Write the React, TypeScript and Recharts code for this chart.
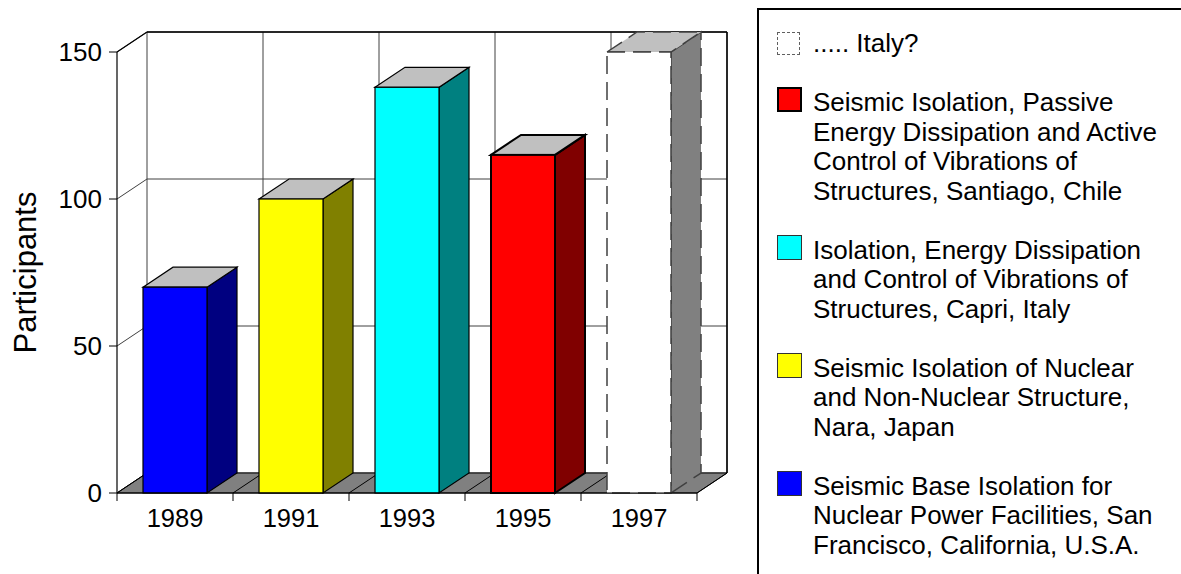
import React from "react";
import { BarChart, Bar, XAxis, YAxis, CartesianGrid, ReferenceArea } from "recharts";

const years = ["1989", "1991", "1993", "1995", "1997"];
const participants = [70, 100, 138, 115, 150];
const yTicks = [0, 50, 100, 150];

// legend text, one array of lines per meeting (same order as years)
const meetingLines = [
  ["Seismic Base Isolation for", "Nuclear Power Facilities, San", "Francisco, California, U.S.A."],
  ["Seismic Isolation of Nuclear", "and Non-Nuclear Structure,", "Nara, Japan"],
  ["Isolation, Energy Dissipation", "and Control of Vibrations of", "Structures, Capri, Italy"],
  ["Seismic Isolation, Passive", "Energy Dissipation and Active", "Control of Vibrations of", "Structures, Santiago, Chile"],
  ["..... Italy?"],
];

const faceColors = ["#0000ff", "#ffff00", "#00ffff", "#ff0000", "#ffffff"];
const sideColors = ["#000080", "#808000", "#008080", "#800000", "#808080"];

const FONT = '"Liberation Sans", Arial, Helvetica, sans-serif';
const DX = 30;
const DY = 20;

const data = years.map((year, i) => ({ year, value: participants[i] }));

const barStyle = (i: number) => {
  const last = i === years.length - 1;
  return {
    stroke: last ? "#404040" : "#000",
    strokeWidth: i === 3 ? 2 : last ? 1.5 : 1.2,
    strokeDasharray: last ? "18 8" : undefined,
  };
};

const Bar3D = (props: any) => {
  const { x, y, width, height } = props;
  const i = props.index ?? years.indexOf(props.payload?.year);
  const s = barStyle(i);
  const r = x + width;
  const b = y + height;
  return (
    <g>
      <polygon
        points={`${r},${y} ${r + DX},${y - DY} ${r + DX},${b - DY} ${r},${b}`}
        fill={sideColors[i]}
        {...s}
      />
      <polygon
        points={`${x},${y} ${x + DX},${y - DY} ${r + DX},${y - DY} ${r},${y}`}
        fill="#c0c0c0"
        {...s}
      />
      <rect x={x} y={y} width={width} height={height} fill={faceColors[i]} {...s} />
    </g>
  );
};

// floor, outer walls and category ticks, laid out from the reference area box
const Frame = (props: any) => {
  const { x, y, width, height } = props;
  const bottom = y + height;
  const band = width / years.length;
  const bounds = years.map((_, i) => x + i * band).concat(x + width);
  return (
    <g>
      <polygon
        points={`${x},${bottom} ${x + width},${bottom} ${x + width + DX},${bottom - DY} ${x + DX},${bottom - DY}`}
        fill="#808080"
        stroke="#000"
        strokeWidth={1}
      />
      {bounds.map((bx, i) => (
        <line key={"d" + i} x1={bx} y1={bottom} x2={bx + DX} y2={bottom - DY} stroke="#000" />
      ))}
      {bounds.map((bx, i) => (
        <line key={"t" + i} x1={bx} y1={bottom} x2={bx} y2={bottom + 8} stroke="#000" />
      ))}
      <line x1={x} y1={y} x2={x + DX} y2={y - DY} stroke="#000" strokeWidth={1.2} />
      <line x1={x + DX} y1={y - DY} x2={x + width + DX} y2={y - DY} stroke="#000" strokeWidth={1.5} />
      <line x1={x + width + DX} y1={y - DY} x2={x + width + DX} y2={bottom - DY} stroke="#000" strokeWidth={1.5} />
    </g>
  );
};

const Legend = () => {
  const order = years.map((_, i) => i).reverse();
  return (
    <div
      style={{
        position: "absolute",
        left: 757,
        top: 8,
        width: 440,
        height: 600,
        border: "2px solid #000",
        boxSizing: "border-box",
        fontFamily: FONT,
        fontSize: 26,
        lineHeight: "29.5px",
        color: "#000",
        paddingTop: 19,
      }}
    >
      {order.map((i) => {
        const last = i === years.length - 1;
        return (
          <div key={years[i]} style={{ position: "relative", paddingLeft: 54, marginBottom: 29.5 }}>
            <div
              style={{
                position: "absolute",
                left: 18,
                top: last ? 3 : -1,
                width: last ? 23 : 25,
                height: last ? 23 : 25,
                boxSizing: "border-box",
                background: faceColors[i],
                border: last ? "1.5px dashed #606060" : i === 3 ? "2.5px solid #000" : "1.5px solid #333",
              }}
            />
            {meetingLines[i].map((line) => (
              <div key={line} style={{ whiteSpace: "nowrap" }}>
                {line}
              </div>
            ))}
          </div>
        );
      })}
    </div>
  );
};

export default function App() {
  return (
    <div style={{ position: "absolute", left: 0, top: 0, width: 1181, height: 574, background: "#fff", overflow: "hidden" }}>
      <BarChart
        width={1181}
        height={574}
        data={data}
        margin={{ top: 52, right: 484, left: 0, bottom: 0 }}
      >
        <ReferenceArea
          x1={years[0]}
          x2={years[years.length - 1]}
          y1={0}
          y2={150}
          shape={<Frame />}
          zIndex={-50}
          ifOverflow="visible"
        />
        <CartesianGrid
          stroke="#404040"
          horizontal={(p: any) => (
            <g key={p.key ?? p.index}>
              <line x1={p.x1} y1={p.y1} x2={p.x1 + DX} y2={p.y1 - DY} stroke="#404040" />
              <line x1={p.x1 + DX} y1={p.y1 - DY} x2={p.x2 + DX} y2={p.y2 - DY} stroke="#404040" />
            </g>
          )}
          vertical={(p: any) => (
            <line key={p.key ?? p.index} x1={p.x1 + DX} y1={p.y1 - DY} x2={p.x2 + DX} y2={p.y2 - DY} stroke="#404040" />
          )}
          verticalCoordinatesGenerator={({ offset }: any) =>
            years.map((_, i) => offset.left + (i * offset.width) / years.length).concat(offset.left + offset.width)
          }
        />
        <XAxis
          dataKey="year"
          height={81}
          axisLine={{ stroke: "#000", strokeWidth: 1.2 }}
          tickLine={false}
          tickSize={8}
          tickMargin={8}
          tick={{ fill: "#000", fontSize: 25.5, fontFamily: FONT }}
        />
        <YAxis
          width={117}
          domain={[0, 150]}
          ticks={yTicks}
          axisLine={{ stroke: "#000", strokeWidth: 1.2 }}
          tickLine={{ stroke: "#000" }}
          tickSize={8}
          tickMargin={7}
          tick={{ fill: "#000", fontSize: 26, fontFamily: FONT }}
          label={{
            content: ({ viewBox }: any) => {
              const cx = 36;
              const cy = viewBox.y + viewBox.height / 2;
              return (
                <text
                  x={cx}
                  y={cy}
                  transform={`rotate(-90, ${cx}, ${cy})`}
                  textAnchor="middle"
                  fontSize={31}
                  fontFamily={FONT}
                  fill="#000"
                >
                  Participants
                </text>
              );
            },
          }}
        />
        <Bar dataKey="value" barSize={64} shape={<Bar3D />} isAnimationActive={false} />
      </BarChart>
      <Legend />
    </div>
  );
}
